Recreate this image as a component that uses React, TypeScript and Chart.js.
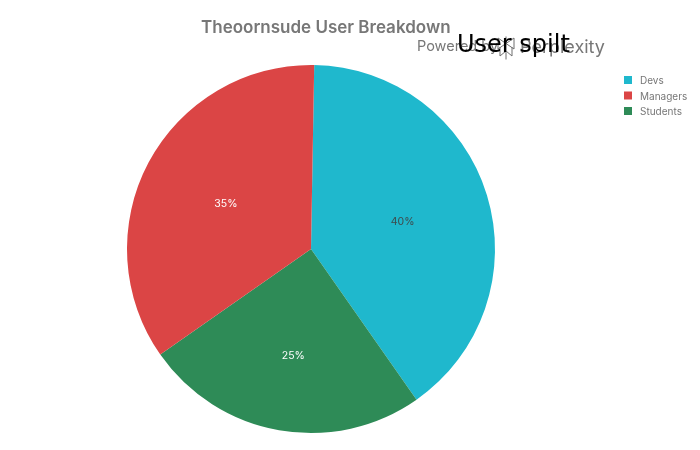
import React, { useEffect, useRef } from 'react';
import { Chart, Plugin, registerables } from 'chart.js';

Chart.register(...registerables);

// slices go clockwise in this order, the legend lists them differently
const categories = ['Devs', 'Students', 'Managers'];
const shares = [40, 25, 35];
const sliceColors = ['#1FB8CD', '#2E8B57', '#DB4545'];
const labelColors = ['#3f4a4c', '#ffffff', '#ffffff'];
const legendOrder = ['Devs', 'Managers', 'Students'];
// how far out each percent label sits, as a fraction of the radius
const labelOffsets = [0.515, 0.585, 0.53];

const FONT = 'Inter, "Liberation Sans", sans-serif';

const drawLogo = (ctx: CanvasRenderingContext2D, cx: number, cy: number) => {
  ctx.save();
  ctx.strokeStyle = '#6f6f6f';
  ctx.lineWidth = 1;
  ctx.beginPath();
  ctx.moveTo(cx, cy - 11.5);
  ctx.lineTo(cx, cy + 11.5);
  ctx.moveTo(cx - 8, cy - 10);
  ctx.lineTo(cx + 8, cy + 1);
  ctx.moveTo(cx + 8, cy - 10);
  ctx.lineTo(cx - 8, cy + 1);
  ctx.moveTo(cx - 8, cy - 10);
  ctx.lineTo(cx - 8, cy + 1);
  ctx.moveTo(cx + 8, cy - 10);
  ctx.lineTo(cx + 8, cy + 1);
  ctx.moveTo(cx - 6, cy - 1);
  ctx.lineTo(cx - 6, cy + 8);
  ctx.lineTo(cx, cy + 3);
  ctx.moveTo(cx + 6, cy - 1);
  ctx.lineTo(cx + 6, cy + 8);
  ctx.lineTo(cx, cy + 3);
  ctx.stroke();
  ctx.restore();
};

const overlay: Plugin<'pie'> = {
  id: 'overlay',
  afterDatasetsDraw(chart) {
    const { ctx } = chart;
    const arcs = chart.getDatasetMeta(0).data as any[];
    ctx.save();
    ctx.textBaseline = 'middle';

    // percent labels on the slices
    ctx.textAlign = 'center';
    ctx.font = `10.5px ${FONT}`;
    arcs.forEach((arc, i) => {
      const props = arc.getProps(['x', 'y', 'startAngle', 'endAngle', 'outerRadius'], true);
      const mid = (props.startAngle + props.endAngle) / 2;
      const r = props.outerRadius * labelOffsets[i];
      ctx.fillStyle = labelColors[i];
      ctx.fillText(`${shares[i]}%`, props.x + Math.cos(mid) * r + 1, props.y + Math.sin(mid) * r + 1);
    });

    // legend, drawn by hand because the box to text gap is wider than the built-in one
    ctx.textAlign = 'left';
    ctx.font = `10px ${FONT}`;
    legendOrder.forEach((name, i) => {
      const y = 80 + i * 15.5;
      ctx.fillStyle = sliceColors[categories.indexOf(name)];
      ctx.fillRect(624, y - 4, 8, 8);
      ctx.fillStyle = '#777777';
      ctx.fillText(name, 640, y + 1);
    });

    // header texts, these overlap in the original too
    ctx.fillStyle = '#777777';
    ctx.font = `600 17px ${FONT}`;
    ctx.fillText('Theoornsude User Breakdown', 201, 28);
    ctx.font = `14.5px ${FONT}`;
    ctx.fillText('Powered by', 417, 47);
    ctx.font = `18px ${FONT}`;
    ctx.fillText('Perplexity', 520, 48);
    drawLogo(ctx, 506, 48);
    ctx.fillStyle = '#000000';
    ctx.font = '24px "DejaVu Sans", sans-serif';
    ctx.fillText('User spilt', 457, 46);
    ctx.restore();
  },
};

const App: React.FC = () => {
  const canvasRef = useRef<HTMLCanvasElement | null>(null);

  useEffect(() => {
    if (!canvasRef.current) return;
    document.body.style.margin = '0';

    const chart = new Chart(canvasRef.current, {
      type: 'pie',
      data: {
        labels: categories,
        datasets: [
          {
            data: shares,
            backgroundColor: sliceColors,
            borderWidth: 0,
          },
        ],
      },
      options: {
        responsive: false,
        animation: false,
        rotation: 1,
        layout: {
          padding: { top: 65, bottom: 17, left: 0, right: 78 },
        },
        plugins: {
          tooltip: { enabled: false },
          legend: { display: false },
        },
      },
      plugins: [overlay],
    });

    return () => {
      chart.destroy();
    };
  }, []);

  return <canvas ref={canvasRef} width={700} height={450} style={{ display: 'block' }} />;
};

export default App;
